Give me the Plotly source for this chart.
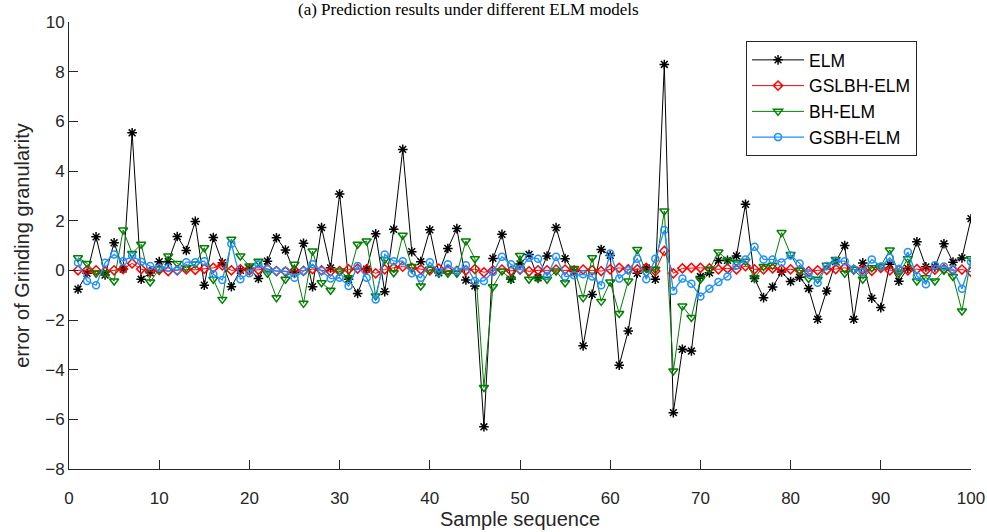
import plotly.graph_objects as go

samples = list(range(1, 101))

elm = [-0.76,-0.12,1.35,-0.19,1.11,0.05,5.54,-0.36,-0.1,0.35,
       0.35,1.36,0.8,1.97,-0.6,1.32,0.31,-0.66,0.0,0.08,
       -0.33,0.37,1.31,0.82,-0.1,1.09,-0.66,1.72,0.1,3.07,
       -0.36,-0.93,0.05,1.47,-0.86,1.65,4.87,0.75,0.35,1.63,
       -0.1,0.88,1.68,-0.39,-0.63,-6.3,0.48,1.45,-0.36,0.26,
       0.64,-0.3,0.58,1.72,0.47,-0.05,-3.04,-0.97,0.84,0.6,
       -3.82,-2.44,-0.12,0.1,-0.36,8.29,-5.73,-3.18,-3.25,-0.25,
       -0.1,0.4,0.4,0.58,2.66,-0.33,-1.1,-0.67,-0.07,-0.45,
       -0.28,-0.73,-1.97,-0.83,0.35,1.0,-1.97,0.3,-1.12,-1.5,
       0.24,-0.44,0.08,1.15,0.14,0.14,1.07,0.33,0.5,2.08]

gslbh = [0,0,0,-0.05,0,0.05,0.28,0.05,-0.05,0.02,
         -0.03,0,0.04,0.02,0.06,0.1,0.2,0,0.04,0,
         0.02,0.06,-0.03,-0.05,0,-0.02,0.05,0,-0.04,-0.03,
         0.04,0.07,0.04,-0.12,0.04,0.1,0.15,0.1,0.04,0,
         0.07,0,-0.02,0,0.05,-0.08,0,0.03,-0.02,0.03,
         -0.04,0,0,0.03,0.03,0,0.03,0,-0.03,0.04,
         0.1,0.04,0.04,0.1,-0.03,0.78,-0.12,0.08,0.1,0.1,
         0.08,0.04,0.08,0.04,0.17,0.04,0.04,0.08,0.04,0.04,
         0,-0.04,0,0.02,0.05,0.1,0.03,0.03,-0.02,0.1,
         0,0.02,0,0.05,0,0.03,0.05,0,0.03,-0.06]

bh = [0.51,0.28,-0.12,-0.12,-0.43,1.62,0.68,1.05,-0.47,0.04,
      0.58,0.28,0.1,0.25,0.91,-0.36,-1.17,1.25,0.58,0.17,
      0.37,-0.12,-1.1,-0.36,0.24,-1.33,0.78,-0.5,-0.8,-0.03,
      -0.3,1.05,1.18,-1.03,0.44,-0.1,1.41,0.15,-0.63,0.04,
      -0.12,-0.12,-0.12,1.18,0.47,-4.72,-0.66,-0.03,-0.36,0.6,
      -0.36,-0.33,-0.36,-0.03,-0.5,0.07,-1.1,0.51,-1.25,-0.47,
      -1.74,-0.43,0.84,-0.1,0.04,2.39,-4.05,-1.44,-1.9,-0.36,
      0.04,0.74,0.41,0.33,0.37,-0.3,0.15,0.2,1.52,0.64,
      0,-0.33,-0.36,0.2,0.44,-0.12,0.04,-0.36,0.1,0.17,
      0.82,-0.12,0.47,-0.43,-0.3,-0.43,0,-0.25,-1.64,0.47]

gsbh = [0.31,-0.43,-0.6,0.31,0.64,0.37,0.58,0.35,0.17,0.1,
        0.1,0,0.33,0.33,0.37,-0.16,-0.39,1.07,-0.36,-0.12,
        0.24,0.04,-0.03,-0.03,-0.3,-0.03,0.24,-0.03,-0.33,-0.3,
        -0.63,0.17,-0.3,-1.17,0.64,0.37,0.37,-0.12,-0.3,0.33,
        -0.07,0.24,-0.03,0.2,-0.43,-0.43,-0.07,0.55,0.24,0.04,
        0.51,0.47,-0.23,0.55,-0.25,-0.2,-0.16,-0.25,-0.6,0.68,
        -0.33,0,0.47,-0.36,0.47,1.62,-0.83,-0.33,-0.54,-1.05,
        -0.74,-0.47,-0.25,0.2,0.44,0.95,0.44,0.44,0.32,0.6,
        0.28,-0.12,-0.5,0.17,0.37,0.37,0.04,-0.07,0.44,0.15,
        0.51,0.04,0.74,-0.23,-0.56,0.2,0.15,0.04,-0.74,0.35]

x_ticks = list(range(0, 101, 10))
y_ticks = list(range(-8, 11, 2))

series = [
    ("ELM", elm, "#000000", "asterisk-open", 8, 1.0),
    ("GSLBH-ELM", gslbh, "#FF0000", "diamond-open", 7, 1.0),
    ("BH-ELM", bh, "#008000", "triangle-down-open", 8, 1.0),
    ("GSBH-ELM", gsbh, "#1E90FF", "circle-open", 7, 1.3),
]

fig = go.Figure()
for name, vals, col, sym, sz, lw in series:
    fig.add_trace(go.Scatter(
        x=samples, y=vals, name=name, mode="lines+markers",
        line=dict(color=col, width=lw),
        marker=dict(symbol=sym, size=sz, color=col, line=dict(color=col, width=1.5)),
    ))

axis_col = "#262626"
fig.update_layout(
    width=987, height=532,
    margin=dict(l=69, r=16, t=22, b=63),
    plot_bgcolor="white", paper_bgcolor="white",
    font=dict(family="Liberation Sans, Arial", size=17, color=axis_col),
    showlegend=True,
    legend=dict(
        x=0.7506, y=0.9575, xanchor="left", yanchor="top",
        bgcolor="white", bordercolor=axis_col, borderwidth=1,
        font=dict(family="Liberation Sans, Arial", size=17.5, color="#000000"),
        itemwidth=52, tracegroupgap=0,
    ),
    xaxis=dict(
        range=[0, 100], tickvals=x_ticks, ticks="inside", ticklen=9,
        tickcolor=axis_col, showline=True, linecolor=axis_col, linewidth=1,
        showgrid=False, zeroline=False, mirror=False, ticklabelstandoff=14,
        automargin=False,
        title=dict(text="Sample sequence", font=dict(size=20, color=axis_col), standoff=4),
    ),
    yaxis=dict(
        range=[-8, 10], tickvals=y_ticks, ticks="inside", ticklen=9,
        tickcolor=axis_col, showline=True, linecolor=axis_col, linewidth=1,
        showgrid=False, zeroline=False, mirror=False, automargin=False,
        title=dict(text="error of Grinding granularity", font=dict(size=20, color=axis_col), standoff=10),
    ),
    annotations=[dict(
        text="(a) Prediction results under different ELM models",
        xref="paper", yref="paper", x=0.443, y=1.0,
        yshift=13,
        xanchor="center", yanchor="middle", showarrow=False,
        font=dict(family="Liberation Serif, Times New Roman", size=17, color="#000000"),
    )],
)

fig.write_html("out.html")
